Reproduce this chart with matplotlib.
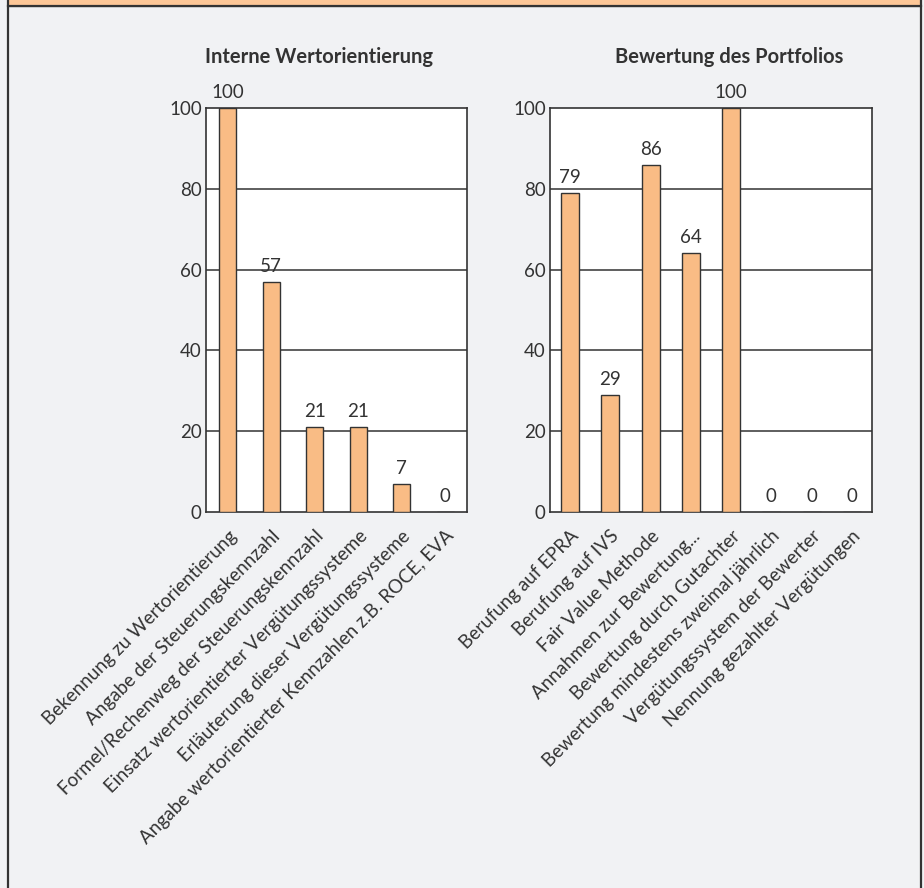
import matplotlib.pyplot as plt
from matplotlib.patches import Rectangle

# data
left_title = "Interne Wertorientierung"
left_labels = [
    "Bekennung zu Wertorientierung",
    "Angabe der Steuerungskennzahl",
    "Formel/Rechenweg der Steuerungskennzahl",
    "Einsatz wertorientierter Vergütungssysteme",
    "Erläuterung dieser Vergütungssysteme",
    "Angabe wertorientierter Kennzahlen z.B. ROCE, EVA",
]
left_values = [100, 57, 21, 21, 7, 0]

right_title = "Bewertung des Portfolios"
right_labels = [
    "Berufung auf EPRA",
    "Berufung auf IVS",
    "Fair Value Methode",
    "Annahmen zur Bewertung...",
    "Bewertung durch Gutachter",
    "Bewertung mindestens zweimal jährlich",
    "Vergütungssystem der Bewerter",
    "Nennung gezahlter Vergütungen",
]
right_values = [79, 29, 86, 64, 100, 0, 0, 0]

y_ticks = [0, 20, 40, 60, 80, 100]

BG = "#f1f2f4"
BAR = "#f9bc85"
DARK = "#333333"

plt.rcParams['font.family'] = ['Lato', 'DejaVu Sans']

fig = plt.figure(figsize=(9.24, 8.88), dpi=100)
fig.patch.set_facecolor(BG)

# frame and header band
fig.patches.append(Rectangle((8 / 924, -0.01), 913 / 924, 1 - 6 / 888 + 0.01,
                             transform=fig.transFigure, facecolor="none",
                             edgecolor=DARK, linewidth=1.6, zorder=0))
fig.patches.append(Rectangle((8 / 924, 1 - 6 / 888), 913 / 924, 6 / 888 + 0.01,
                             transform=fig.transFigure, facecolor="#fdc797",
                             edgecolor=DARK, linewidth=1.6, zorder=0))


def draw_panel(rect, labels, values, width, title, title_x):
    ax = fig.add_axes(rect)
    ax.set_facecolor("white")
    x = list(range(len(values)))
    ax.bar(x, values, width=width, color=BAR, edgecolor=DARK, linewidth=1.0, zorder=3)
    for xi, v in zip(x, values):
        ax.annotate(str(v), (xi, v), xytext=(0, 5), textcoords="offset points",
                    ha="center", va="bottom", fontsize=13.5, color=DARK)
    ax.set_xlim(-0.5, len(values) - 0.5)
    ax.set_ylim(0, 100)
    ax.set_yticks(y_ticks)
    ax.set_yticklabels([str(t) for t in y_ticks], fontsize=13.5, color=DARK)
    ax.set_xticks(x)
    ax.set_xticklabels(labels, rotation=45, ha="right", rotation_mode="anchor",
                       fontsize=13.5, color=DARK)
    ax.tick_params(axis="both", length=0, pad=3)
    ax.tick_params(axis="x", pad=11)
    for t in y_ticks[1:-1]:
        ax.axhline(t, color=DARK, linewidth=1.1, zorder=1)
    for s in ax.spines.values():
        s.set_color(DARK)
        s.set_linewidth(1.2)
    fig.text(title_x, 1 - 57 / 888, title, ha="center", va="center",
             fontsize=14.5, fontweight="bold", color=DARK)
    return ax


draw_panel([206 / 924, 1 - 512 / 888, 261 / 924, 404 / 888],
           left_labels, left_values, 0.4, left_title, 319 / 924)
draw_panel([550 / 924, 1 - 512 / 888, 322 / 924, 404 / 888],
           right_labels, right_values, 0.45, right_title, 729 / 924)

fig.savefig("out.png", dpi=100, facecolor=BG)
